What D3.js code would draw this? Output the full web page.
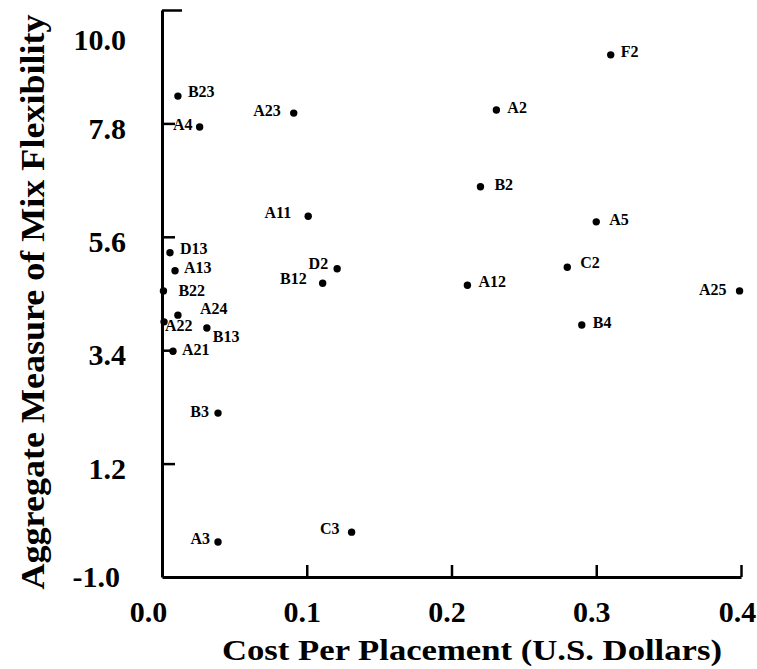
<!DOCTYPE html>
<html>
<head>
<meta charset="utf-8">
<script src="https://cdn.jsdelivr.net/npm/d3@7"></script>
<style>
  body { margin: 0; background: #fff; }
  svg { display: block; }
  text { font-family: "Liberation Serif", "DejaVu Serif", serif; font-weight: bold; fill: #000; }
</style>
</head>
<body>
<div id="chart"></div>
<script>
// Point names, x = cost per placement, y = mix flexibility
var pointNames = ["F2", "B23", "A4", "A23", "A2", "B2", "A11", "D13", "A13", "B22", "A24", "A22",
  "B13", "A21", "B3", "A3", "C3", "D2", "B12", "A5", "C2", "A12", "A25", "B4"];
var costValues = [0.310, 0.011, 0.026, 0.091, 0.231, 0.220, 0.101, 0.0055, 0.009, 0.001, 0.011, 0.0014,
  0.031, 0.0076, 0.0387, 0.0387, 0.131, 0.121, 0.111, 0.300, 0.280, 0.211, 0.399, 0.290];
var flexValues = [9.13, 8.33, 7.73, 8.00, 8.06, 6.57, 6.00, 5.29, 4.94, 4.55, 4.08, 3.95,
  3.83, 3.38, 2.18, -0.32, -0.13, 4.98, 4.70, 5.89, 5.01, 4.66, 4.55, 3.89];

// Tick labels
var xTicks = [0.0, 0.1, 0.2, 0.3, 0.4];
var yTicks = [-1.0, 1.2, 3.4, 5.6, 7.8, 10.0];

// Where each label sits relative to its dot: [dx, dy, anchor]
var labelPlacement = {
  F2: [10, -3, "start"], B23: [10, -5, "start"], A4: [-7, -3, "end"], A23: [-13, -3, "end"],
  A2: [11, -2, "start"], B2: [14, -2, "start"], A11: [-17, -4, "end"], D13: [10, -4, "start"],
  A13: [9, -3, "start"], B22: [15, 0, "start"], A24: [22, -7, "start"], A22: [1, 4, "start"],
  B13: [6, 8, "start"], A21: [9, -2, "start"], B3: [-9, -2, "end"], A3: [-8, -3, "end"],
  C3: [-12, -4, "end"], D2: [-9, -5, "end"], B12: [-16, -5, "end"], A5: [13, -2, "start"],
  C2: [13, -5, "start"], A12: [11, -4, "start"], A25: [-13, -1, "end"], B4: [11, -2, "start"]
};

var points = pointNames.map(function (name, i) {
  return { name: name, cost: costValues[i], flex: flexValues[i] };
});

var width = 757;
var height = 669;

// plain hyphen for negatives, like the printed original
var fmt = function (d) { return d3.format(".1f")(d).replace("\u2212", "-"); };

var svg = d3.select("#chart")
  .append("svg")
  .attr("width", width)
  .attr("height", height);

// Scales
var xScale = d3.scaleLinear().domain([0, 0.4]).range([162, 741]);
var yScale = d3.scaleLinear().domain([-1, 10]).range([577, 10]);

// Y axis (ticks point inward)
var yAxis = d3.axisLeft(yScale)
  .tickValues(yTicks)
  .tickSizeInner(-13)
  .tickSizeOuter(0)
  .tickPadding(36)
  .tickFormat(fmt);

var yG = svg.append("g")
  .attr("transform", "translate(162,0)")
  .call(yAxis);

yG.select(".domain").attr("stroke", "#000").attr("stroke-width", 3);
yG.selectAll(".tick line").attr("stroke", "#000").attr("stroke-width", 2.5);
yG.selectAll(".tick text")
  .attr("font-size", "30px")
  .attr("font-family", "Liberation Serif, serif")
  .attr("font-weight", "bold")
  .attr("fill", "#000")
  .attr("dy", "0.32em")
  .attr("y", function (d) { return d === 10 ? 30 : (d === -1 ? 0 : 5); })
  .attr("x", function (d) { return d === -1 ? -42 : -36; });
// top tick is a bit longer
yG.selectAll(".tick line").filter(function (d) { return d === 10; }).attr("x2", 20);
yG.selectAll(".tick line").filter(function (d) { return d === -1; }).remove();

// X axis (ticks point upward)
var xAxis = d3.axisBottom(xScale)
  .tickValues(xTicks)
  .tickSizeInner(-12)
  .tickSizeOuter(0)
  .tickPadding(24)
  .tickFormat(fmt);

var xG = svg.append("g")
  .attr("transform", "translate(0,577)")
  .call(xAxis);

xG.select(".domain").attr("stroke", "#000").attr("stroke-width", 3);
xG.selectAll(".tick line").attr("stroke", "#000").attr("stroke-width", 2.5);
xG.selectAll(".tick line").filter(function (d) { return d === 0; }).remove();
xG.selectAll(".tick text")
  .attr("font-size", "30px")
  .attr("font-family", "Liberation Serif, serif")
  .attr("font-weight", "bold")
  .attr("fill", "#000")
  .attr("x", function (d) { return d === 0 ? -14 : (d === 0.4 ? -4 : -5); });

// Dots
svg.selectAll("circle.pt")
  .data(points)
  .enter()
  .append("circle")
  .attr("class", "pt")
  .attr("cx", function (d) { return xScale(d.cost); })
  .attr("cy", function (d) { return yScale(d.flex); })
  .attr("r", 3.7)
  .attr("fill", "#000");

// Point labels
svg.selectAll("text.pt-label")
  .data(points)
  .enter()
  .append("text")
  .attr("class", "pt-label")
  .attr("x", function (d) { return xScale(d.cost) + labelPlacement[d.name][0]; })
  .attr("y", function (d) { return yScale(d.flex) + labelPlacement[d.name][1]; })
  .attr("dominant-baseline", "central")
  .attr("text-anchor", function (d) { return labelPlacement[d.name][2]; })
  .attr("font-size", "16px")
  .text(function (d) { return d.name; });

// Axis titles
svg.append("text")
  .attr("transform", "translate(44,302) rotate(-90)")
  .attr("text-anchor", "middle")
  .attr("font-size", "33px")
  .attr("textLength", 575)
  .attr("lengthAdjust", "spacingAndGlyphs")
  .text("Aggregate Measure of Mix Flexibility");

svg.append("text")
  .attr("x", 472)
  .attr("y", 660)
  .attr("text-anchor", "middle")
  .attr("font-size", "30px")
  .attr("textLength", 500)
  .attr("lengthAdjust", "spacingAndGlyphs")
  .text("Cost Per Placement (U.S. Dollars)");
</script>
</body>
</html>
